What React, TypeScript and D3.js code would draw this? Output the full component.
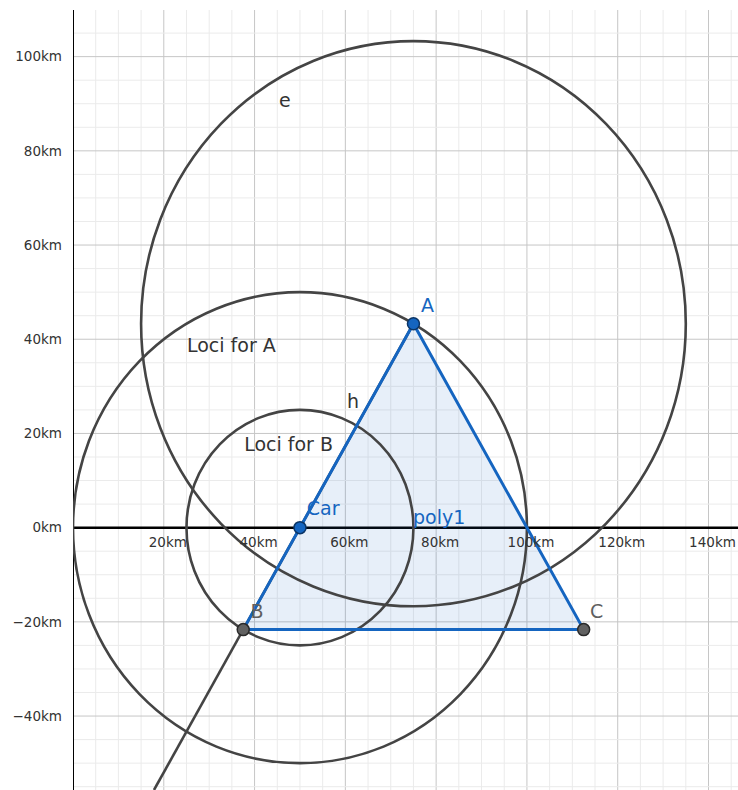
import React from 'react';
import * as d3 from 'd3';

// points of the construction (km)
const pointNames = ['A', 'B', 'C', 'Car'];
const pointX = [75, 37.5, 112.5, 50];
const pointY = [43.3, -21.65, -21.65, 0];
const pointKind = ['free', 'dep', 'dep', 'free'];

// circles: centre point + radius (km)
const circleNames = ['Loci for A', 'Loci for B', 'e'];
const circleCentres = ['Car', 'Car', 'A'];
const circleRadii = [50, 25, 60];

const polyVertices = ['A', 'B', 'C'];
const rayFrom = 'A';
const rayThrough = 'B';

const xTicks = [20, 40, 60, 80, 100, 120, 140];
const yTicks = [-40, -20, 0, 20, 40, 60, 80, 100];

// object labels, anchored in km
const labelTexts = ['A', 'B', 'C', 'Car', 'poly1', 'h', 'Loci for A', 'Loci for B', 'e'];
const labelX = [76.65, 39.1, 113.9, 51.5, 74.9, 60.35, 25.1, 37.7, 45.4];
const labelY = [45.75, -19.2, -19.2, 2.65, 0.75, 25.4, 37.3, 16.2, 89.3];
const labelKind = ['blue', 'gray', 'gray', 'blue', 'blue', 'dark', 'dark', 'dark', 'dark'];

const W = 738, H = 790;
const left = 73, top = 10;
const xMin = 0, xMax = 146.5, yMin = -55.7, yMax = 109.9;

const BLUE = '#1565c0';
const FONT = '"DejaVu Sans", sans-serif';

export default function App() {
  const x = d3.scaleLinear().domain([xMin, xMax]).range([left, W]);
  const y = d3.scaleLinear().domain([yMin, yMax]).range([H, top]);

  const pt = (name: string) => {
    const i = pointNames.indexOf(name);
    return [pointX[i], pointY[i]];
  };

  const minorX = d3.range(0, xMax + 0.01, 5);
  const minorY = d3.range(-55, yMax + 0.01, 5);

  const poly = polyVertices.map(pt);
  const line = d3.line<number[]>().x(d => x(d[0])).y(d => y(d[1]));

  // ray from A through B until it leaves the bottom of the view
  const [ax, ay] = pt(rayFrom);
  const [bx, by] = pt(rayThrough);
  const t = (yMin - ay) / (by - ay);
  const rayEnd = [ax + t * (bx - ax), yMin];

  const labelColor = (k: string) => (k === 'blue' ? BLUE : k === 'gray' ? '#5f5f5f' : '#333');

  return (
    <svg width={W} height={H} style={{ position: 'absolute', left: 0, top: 0, background: '#fff' }}>
      <defs>
        <clipPath id="plot">
          <rect x={left} y={top} width={W - left} height={H - top} />
        </clipPath>
      </defs>
      <g clipPath="url(#plot)">
        {minorX.map(v => (
          <line key={'mx' + v} x1={x(v)} x2={x(v)} y1={top} y2={H}
            stroke={v % 20 === 0 ? '#c6c6c6' : '#ebebeb'} strokeWidth={1} />
        ))}
        {minorY.map(v => (
          <line key={'my' + v} x1={left} x2={W} y1={y(v)} y2={y(v)}
            stroke={v % 20 === 0 ? '#c6c6c6' : '#ebebeb'} strokeWidth={1} />
        ))}
        {/* axes */}
        <line x1={left} x2={W} y1={y(0)} y2={y(0)} stroke="#000" strokeWidth={2.5} />
        <line x1={x(0)} x2={x(0)} y1={top} y2={H} stroke="#000" strokeWidth={2} />

        {/* polygon fill */}
        <path d={line(poly) + 'Z'} fill={BLUE} fillOpacity={0.1} stroke="none" />

        {/* circles */}
        {circleNames.map((n, i) => {
          const [cx, cy] = pt(circleCentres[i]);
          const r = circleRadii[i];
          return (
            <ellipse key={n} cx={x(cx)} cy={y(cy)} rx={x(r) - x(0)} ry={y(0) - y(r)}
              fill="none" stroke="#444" strokeWidth={2.6} />
          );
        })}

        {/* ray h */}
        <path d={line([[ax, ay], rayEnd]) || ''} stroke="#444" strokeWidth={2.6} fill="none" />

        {/* polygon edges */}
        <path d={line(poly) + 'Z'} fill="none" stroke={BLUE} strokeWidth={3} strokeLinejoin="round" />

        {/* points */}
        {pointNames.map((n, i) => (
          <circle key={n} cx={x(pointX[i])} cy={y(pointY[i])} r={6}
            fill={pointKind[i] === 'free' ? BLUE : '#616161'}
            stroke={pointKind[i] === 'free' ? '#0b3566' : '#2a2a2a'} strokeWidth={1.5} />
        ))}

        {/* object labels */}
        {labelTexts.map((s, i) => (
          <text key={s} x={x(labelX[i])} y={y(labelY[i])} fontFamily={FONT} fontSize={19}
            fill={labelColor(labelKind[i])}>{s}</text>
        ))}
      </g>

      {/* tick labels */}
      {yTicks.map(v => (
        <text key={'yt' + v} x={62} y={y(v)} dy="0.35em" textAnchor="end" fontFamily={FONT}
          fontSize={13.5} fill="#333">{(v < 0 ? '\u2212' + -v : v) + 'km'}</text>
      ))}
      {xTicks.map(v => (
        <text key={'xt' + v} x={x(v) + 4} y={y(0) + 19} textAnchor="middle" fontFamily={FONT}
          fontSize={13.5} fill="#333">{v + 'km'}</text>
      ))}
    </svg>
  );
}
